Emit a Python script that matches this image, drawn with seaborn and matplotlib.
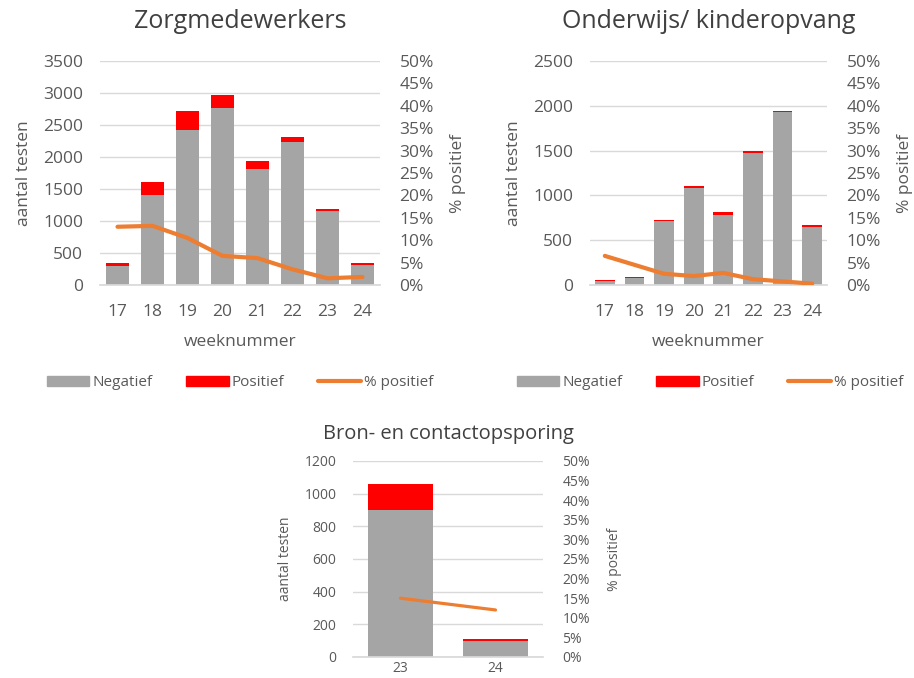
import matplotlib
matplotlib.use('Agg')
import matplotlib.pyplot as plt
import seaborn as sns
import numpy as np
from matplotlib.patches import Patch
from matplotlib.lines import Line2D
from matplotlib.ticker import PercentFormatter

# Zorgmedewerkers
zorg_weeks = ['17', '18', '19', '20', '21', '22', '23', '24']
zorg_neg = [300, 1400, 2420, 2770, 1810, 2230, 1160, 310]
zorg_pos = [50, 210, 300, 200, 120, 80, 30, 30]
zorg_pct = [13.0, 13.2, 10.5, 6.5, 6.0, 3.5, 1.5, 1.8]

# Onderwijs/ kinderopvang
ond_weeks = ['17', '18', '19', '20', '21', '22', '23', '24']
ond_neg = [40, 80, 710, 1080, 780, 1470, 1930, 650]
ond_pos = [20, 10, 20, 30, 30, 20, 10, 15]
ond_pct = [6.5, 4.5, 2.5, 2.0, 2.7, 1.3, 0.8, 0.3]

# Bron- en contactopsporing
bco_weeks = ['23', '24']
bco_neg = [900, 95]
bco_pos = [160, 15]
bco_pct = [15.0, 12.0]

GRAY = '#A5A5A5'
RED = '#FF0000'
ORANGE = '#ED7D31'
TXT = '#595959'
GRID = '#D9D9D9'

sns.set_theme(style='white')
plt.rcParams['font.family'] = ['Open Sans', 'DejaVu Sans']
plt.rcParams['text.color'] = TXT
plt.rcParams['axes.labelcolor'] = TXT

W, H = 914, 678
fig = plt.figure(figsize=(W / 100, H / 100), dpi=100)


def px_axes(x0, y0, x1, y1):
    return fig.add_axes([x0 / W, 1 - y1 / H, (x1 - x0) / W, (y1 - y0) / H])


def draw_panel(ax, weeks, neg, pos, pct, ymax, ystep, title, fs, tfs, bw,
               tpad, lw, xpad, xlabel=True):
    total = [n + p for n, p in zip(neg, pos)]
    sns.barplot(x=weeks, y=total, color=RED, width=bw, ax=ax, saturation=1,
                linewidth=0, edgecolor='none')
    sns.barplot(x=weeks, y=neg, color=GRAY, width=bw, ax=ax, saturation=1,
                linewidth=0, edgecolor='none')
    ax.set_ylim(0, ymax)
    ax.set_yticks(np.arange(0, ymax + 1, ystep))
    ax.set_xlim(-0.5, len(weeks) - 0.5)
    ax.grid(axis='y', color=GRID, lw=1)
    ax.set_axisbelow(True)
    for s in ['top', 'right', 'left']:
        ax.spines[s].set_visible(False)
    ax.spines['bottom'].set_color(GRID)
    ax.tick_params(axis='y', colors=TXT, labelsize=fs, length=0, pad=12)
    ax.tick_params(axis='x', colors=TXT, labelsize=fs, length=0, pad=xpad)
    ax.set_ylabel('aantal testen', fontsize=fs, color=TXT, labelpad=8)
    if xlabel:
        ax.set_xlabel('weeknummer', fontsize=fs, color=TXT, labelpad=10)
    else:
        ax.set_xlabel('')
    ax.set_title(title, fontsize=tfs, color='#404040', pad=tpad)

    ax2 = ax.twinx()
    sns.lineplot(x=np.arange(len(weeks)), y=pct, color=ORANGE, lw=lw, ax=ax2)
    ax2.set_ylim(0, 50)
    ax2.set_yticks(np.arange(0, 51, 5))
    ax2.yaxis.set_major_formatter(PercentFormatter(decimals=0))
    for s in ax2.spines.values():
        s.set_visible(False)
    ax2.tick_params(axis='y', colors=TXT, labelsize=fs, length=0, pad=14)
    ax2.set_ylabel('% positief', fontsize=fs, color=TXT, labelpad=12)
    ax2.grid(False)
    return ax2


ax1 = px_axes(100, 61, 380, 285)
draw_panel(ax1, zorg_weeks, zorg_neg, zorg_pos, zorg_pct, 3500, 500,
           'Zorgmedewerkers', 12.5, 18, 0.64, 24, 3, 14)

ax2 = px_axes(590, 61, 827, 285)
draw_panel(ax2, ond_weeks, ond_neg, ond_pos, ond_pct, 2500, 500,
           'Onderwijs/ kinderopvang', 12.5, 18, 0.67, 24, 3, 14)

ax3 = px_axes(353, 461, 543, 657)
draw_panel(ax3, bco_weeks, bco_neg, bco_pos, bco_pct, 1200, 200,
           'Bron- en contactopsporing', 10, 14.5, 0.68, 16, 2.3, 3, xlabel=False)

handles = [Patch(color=GRAY, label='Negatief'),
           Patch(color=RED, label='Positief'),
           Line2D([0], [0], color=ORANGE, lw=3, label='% positief')]
for cx in [240, 710]:
    fig.legend(handles=handles, loc='center', bbox_to_anchor=(cx / W, 1 - 383 / H),
               ncol=3, frameon=False, fontsize=11, handlelength=2.8,
               handleheight=0.6, columnspacing=2.2, handletextpad=0.2,
               labelcolor=TXT)

fig.savefig('out.png', dpi=100, facecolor='white')
